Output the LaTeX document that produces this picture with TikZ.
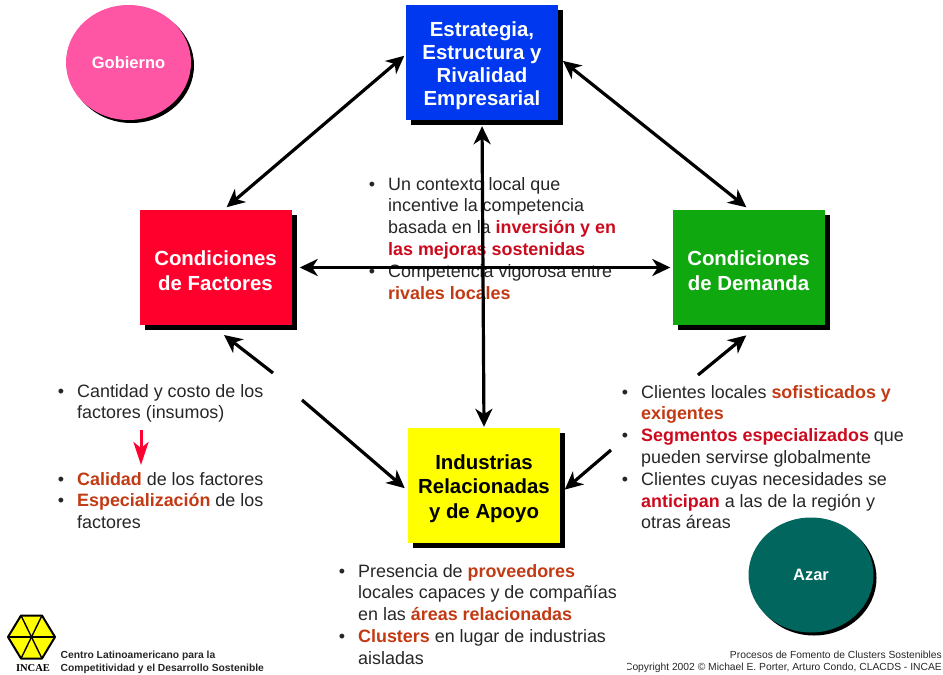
\documentclass[tikz,border=0pt]{standalone}
\usepackage{fontspec}
\setmainfont{Liberation Sans}
\usetikzlibrary{arrows.meta,shadows,shapes.geometric}

\definecolor{txtdark}{HTML}{262626}
\definecolor{txtred}{HTML}{CC0A1E}
\definecolor{txtrust}{HTML}{C23A14}
\definecolor{boxyellow}{rgb}{1,1,0}

\newcommand{\bul}{\leavevmode\llap{\textbullet\hspace{13pt}}\vphantom{Al}}
\newcommand{\hired}[1]{\textcolor{txtred}{\textbf{#1}}}
\newcommand{\hirust}[1]{\textcolor{txtrust}{\textbf{#1}}}
\newcommand{\capgap}{\rule{0pt}{21pt}}

\tikzset{
  box/.style={rectangle, minimum width=152pt, minimum height=115pt, inner sep=0pt,
    align=center, font=\fontsize{20.4}{24.2}\selectfont\bfseries, text=white,
    drop shadow={shadow xshift=5pt, shadow yshift=-5pt, fill=black, opacity=1}},
  blob/.style={ellipse, minimum width=125pt, minimum height=115pt, inner sep=0pt,
    font=\fontsize{16.5}{20}\selectfont\bfseries, text=white,
    drop shadow={shadow xshift=3pt, shadow yshift=-3pt, fill=black, opacity=1}},
  listing/.style={anchor=north west, inner sep=0pt, align=left, text=txtdark,
    font=\fontsize{17.9}{21.8}\selectfont},
  link/.style={line width=3.2pt, black},
  >={Stealth[length=18pt, width=17pt, inset=5.5pt]}
}

\begin{document}
\begin{tikzpicture}
  [x=1pt, y=-1pt]
  \useasboundingbox (0, 0) rectangle (943, 675);

  \node[box, fill={rgb,255:red,0;green,56;blue,240},
    font=\fontsize{20.4}{22.8}\selectfont\bfseries] (est) at (482, 62.5)
    {\capgap Estrategia,\\Estructura y\\Rivalidad\\Empresarial};
  \node[box, fill={rgb,255:red,255;green,0;blue,45}] (fac) at (215.5, 267.5)
    {\capgap Condiciones\\de Factores};
  \node[box, fill={rgb,255:red,15;green,168;blue,15}] (dem) at (748.5, 267.5)
    {\capgap Condiciones\\de Demanda};
  \node[box, fill=boxyellow, text=black] (ind) at (484, 485.5)
    {\capgap Industrias\\Relacionadas\\y de Apoyo};

  \node[blob, fill={rgb,255:red,255;green,85;blue,165}] (gob) at (128.5, 62.5) {Gobierno};
  \node[blob, fill={rgb,255:red,0;green,102;blue,94}] (aza) at (811, 575) {Azar};

  % free ends of the broken arrows
  \coordinate (facgap) at (273, 373);
  \coordinate (indgapl) at (302, 400);
  \coordinate (demgap) at (698, 375);
  \coordinate (indgapr) at (611, 450);
  \coordinate (redtop) at (141, 430);
  \coordinate (redtip) at (141, 465);

  \node[listing] (ctx) at (388, 177)
    {\bul Un contexto local que\\incentive la competencia\\basada en la \hired{inversión y en}\\
     \hired{las mejoras sostenidas}\\\bul Competencia vigorosa entre\\\hirust{rivales locales}};
  \node[listing] (cost) at (77, 384)
    {\bul Cantidad y costo de los\\factores (insumos)};
  \node[listing] (cal) at (77, 472)
    {\bul\hirust{Calidad} de los factores\\\bul\hirust{Especialización} de los\\factores};
  \node[listing] (cli) at (641, 385)
    {\bul Clientes locales \hirust{sofisticados y}\\\hirust{exigentes}\\
     \bul\hired{Segmentos especializados} que\\pueden servirse globalmente\\
     \bul Clientes cuyas necesidades se\\\hired{anticipan} a las de la región y\\otras áreas};
  \node[listing] (pre) at (358, 564)
    {\bul Presencia de \hirust{proveedores}\\locales capaces y de compañías\\
     en las \hirust{áreas relacionadas}\\\bul\hirust{Clusters} en lugar de industrias\\aisladas};

  \foreach \from/\to/\sa/\sb in {est.174/fac.82/2/4,est.4/dem.89/6/4,
    est.south/ind.north/6/1,fac.east/dem.west/8/2}
  \draw[link, <->, shorten <=\sa pt, shorten >=\sb pt] (\from) -- (\to);

  \foreach \from/\to/\sb in {facgap/fac.266/16,indgapl/ind.184/4,
    demgap/dem.280/16,indgapr/ind.-6/6}
  \draw[link, ->, shorten >=\sb pt] (\from) -- (\to);

  \draw[line width=3pt, color={rgb,255:red,255;green,0;blue,51},
    -{Stealth[length=23pt, width=15pt, inset=6pt]}] (redtop) -- (redtip);

  % INCAE logo
  \foreach \n/\x/\y in {h1/8/637,h2/21/615.5,h3/42/615.5,h4/55/637,h5/42/658.5,h6/21/658.5}
  \coordinate (\n) at (\x, \y);
  \draw[line width=2pt, fill=boxyellow, line join=round] (h1) -- (h2) -- (h3) -- (h4) -- (h5) -- (h6) -- cycle;
  \foreach \from/\to in {h1/h4,h2/h5,h3/h6}
  \draw[line width=1.4pt] (\from) -- (\to);

  \node[font=\fontsize{10.5}{10}\selectfont\bfseries\fontspec{Liberation Serif}] (incae) at (33, 668.5) {INCAE};
  \node[anchor=north west, inner sep=0pt, align=left, text=txtdark,
    font=\fontsize{10.3}{13}\selectfont\bfseries] (cen) at (60.5, 650.5)
    {Centro Latinoamericano para la\\Competitividad y el Desarrollo Sostenible};

  \node[anchor=east, inner sep=0pt, text=txtdark, font=\fontsize{10.3}{12}\selectfont] (pro) at (942, 655)
    {Procesos de Fomento de Clusters Sostenibles};
  \begin{scope}
    \clip (627, 660) rectangle (943, 675);
    \node[anchor=east, inner sep=0pt, text=txtdark, font=\fontsize{10.3}{12}\selectfont] (cop) at (942, 667.5)
      {Copyright 2002 © Michael E. Porter, Arturo Condo, CLACDS - INCAE};
  \end{scope}
\end{tikzpicture}
\end{document}
